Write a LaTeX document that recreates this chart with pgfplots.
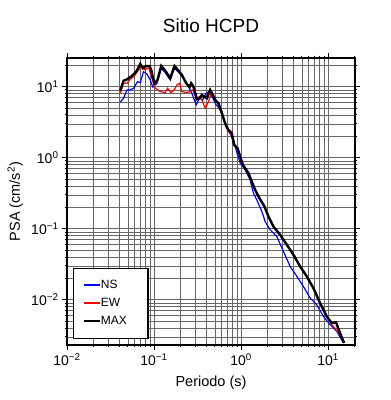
\documentclass[border=0pt]{standalone}
\usepackage{fontspec}
\setmainfont{Liberation Sans}
\usepackage{pgfplots}
\pgfplotsset{compat=1.18}
\begin{document}
\begin{tikzpicture}
\begin{loglogaxis}[
  scale only axis, width=288pt, height=287pt,
  xmin=0.01, xmax=20.4, ymin=0.0023, ymax=25.3,
  xtick={0.01,0.1,1,10},
  xticklabels={10\textsuperscript{−2},10\textsuperscript{−1},10\textsuperscript{0},10\textsuperscript{1}},
  ytick={0.01,0.1,1,10},
  yticklabels={10\textsuperscript{−2},10\textsuperscript{−1},10\textsuperscript{0},10\textsuperscript{1}},
  minor xtick={0.02,0.03,0.04,0.05,0.06,0.07,0.08,0.09,0.2,0.3,0.4,0.5,0.6,0.7,0.8,0.9,2,3,4,5,6,7,8,9,20},
  minor ytick={0.003,0.004,0.005,0.006,0.007,0.008,0.009,0.02,0.03,0.04,0.05,0.06,0.07,0.08,0.09,0.2,0.3,0.4,0.5,0.6,0.7,0.8,0.9,2,3,4,5,6,7,8,9,20},
  grid=both,
  major grid style={black!60, line width=0.5pt},
  minor grid style={black!60, line width=0.5pt},
  tick align=outside,
  xtick pos=both, ytick pos=both,
  major tick length=5pt, minor tick length=2.5pt,
  tick style={black, line width=0.8pt},
  axis line style={line width=1.6pt},
  tick label style={font=\fontsize{14}{16}\selectfont},
  label style={font=\fontsize{14.5}{17}\selectfont},
  xlabel={Periodo (s)},
  ylabel={PSA (cm/s\textsuperscript{2})},
  xlabel style={at={(axis description cs:0.5,-0.132)}, anchor=center},
  ylabel style={at={(axis description cs:-0.18,0.5)}, anchor=center},
  title={Sitio HCPD},
  title style={font=\fontsize{19}{22}\selectfont, at={(axis description cs:0.5,1.09)}, anchor=center},
  legend style={at={(axis description cs:0.021,0.021)}, anchor=south west,
    draw=black, line width=1.4pt, fill=white, inner xsep=9pt, inner ysep=8pt,
    font=\fontsize{12}{14}\selectfont, row sep=0pt,
    nodes={inner sep=0pt, minimum height=18pt}},
  legend cell align=left,
  legend image code/.code={\draw[#1, line width=2.2pt] (0pt,0pt) -- (16pt,0pt);},
]
\addplot[blue, line width=1.2pt] coordinates {
(0.0409,6.03) (0.0447,6.87) (0.0489,8.99) (0.0533,8.99) (0.0582,9.49) (0.0647,11.75)
(0.0695,11.38) (0.0757,16.26) (0.0828,15.10) (0.0904,12.42) (0.0971,9.81) (0.108,11.16)
(0.121,18.15) (0.1345,15.74) (0.1535,12.42) (0.1718,18.15) (0.1963,15.43) (0.2182,13.13)
(0.2489,10.0) (0.2723,8.08) (0.3055,5.53) (0.3327,6.87) (0.3639,6.50) (0.3972,8.08)
(0.4335,8.51) (0.4742,6.87) (0.5176,5.53) (0.5649,4.97) (0.6180,3.78) (0.6871,2.60)
(0.7638,2.09) (0.8551,1.43) (0.9772,0.837) (1.114,0.673) (1.271,0.488) (1.387,0.317)
(1.517,0.255) (1.733,0.175) (1.892,0.126) (2.158,0.0966) (2.577,0.0776) (3.069,0.0478)
(3.664,0.0294) (4.374,0.0213) (5.200,0.0154) (6.209,0.0106) (7.413,0.0085) (8.831,0.00582)
(10.54,0.00445) (12.59,0.00358) (14.99,0.00246)
};
\addlegendentry{\makebox[38pt][l]{NS}}
\addplot[red, line width=1.2pt] coordinates {
(0.0409,8.08) (0.0447,11.16) (0.0489,11.16) (0.0533,12.70) (0.0593,14.14) (0.0664,17.18)
(0.0726,19.10) (0.0793,17.18) (0.0865,18.75) (0.0946,13.13) (0.1032,9.49) (0.1178,8.51)
(0.1345,8.23) (0.1429,9.49) (0.1563,8.23) (0.1706,8.99) (0.1832,10.56) (0.1963,11.16)
(0.2089,8.51) (0.2344,8.23) (0.2606,8.51) (0.2799,8.99) (0.3055,6.87) (0.3327,7.23)
(0.3548,6.50) (0.3873,4.97) (0.4227,6.15) (0.4539,8.08) (0.4909,7.23) (0.5358,5.84)
(0.6026,4.45) (0.6561,2.89) (0.7161,2.33) (0.7834,2.09) (0.8551,1.51) (0.9333,1.29)
(1.021,0.792) (1.114,0.735) (1.271,0.515) (1.517,0.317) (1.626,0.265) (1.841,0.207)
(2.065,0.147) (2.355,0.106) (2.812,0.081) (3.357,0.0588) (3.999,0.0426) (4.775,0.0291)
(5.689,0.0211) (6.776,0.0145) (8.091,0.0089) (9.660,0.00575) (11.02,0.00445) (12.36,0.00378)
(13.49,0.00333) (15.27,0.00246)
};
\addlegendentry{\makebox[38pt][l]{EW}}
\addplot[black, line width=2.4pt] coordinates {
(0.0409,8.78) (0.0447,12.14) (0.0476,12.42) (0.0510,13.13) (0.0558,14.14) (0.0625,16.26)
(0.0695,20.86) (0.0746,18.15) (0.0813,19.55) (0.0888,19.55) (0.0929,17.18) (0.1005,11.16)
(0.1097,12.42) (0.121,19.55) (0.1345,16.79) (0.1535,13.13) (0.1718,19.55) (0.191,16.79)
(0.2089,14.62) (0.2344,11.16) (0.2558,9.81) (0.2673,11.16) (0.2838,10.0) (0.3111,6.65)
(0.3327,6.87) (0.3548,7.64) (0.3767,7.23) (0.4046,6.87) (0.4416,8.99) (0.4742,7.64)
(0.5047,6.50) (0.5508,5.84) (0.6026,4.23) (0.6561,3.05) (0.7161,2.46) (0.7834,2.21)
(0.8337,1.51) (0.9099,1.36) (0.9772,1.035) (1.049,0.792) (1.114,0.711) (1.216,0.605)
(1.330,0.461) (1.452,0.352) (1.626,0.269) (1.841,0.210) (2.065,0.149) (2.355,0.107)
(2.812,0.0821) (3.357,0.0594) (3.999,0.0430) (4.775,0.0294) (5.689,0.0213) (6.776,0.0146)
(8.091,0.0090) (9.660,0.00582) (11.02,0.00470) (12.36,0.00480) (13.49,0.00358) (15.27,0.00246)
};
\addlegendentry{\makebox[38pt][l]{MAX}}
\end{loglogaxis}
\pgfresetboundingbox
\useasboundingbox ([shift={(-67pt,-55pt)}]current axis.south west) rectangle ([shift={(35pt,58pt)}]current axis.north east);
\end{tikzpicture}
\end{document}
